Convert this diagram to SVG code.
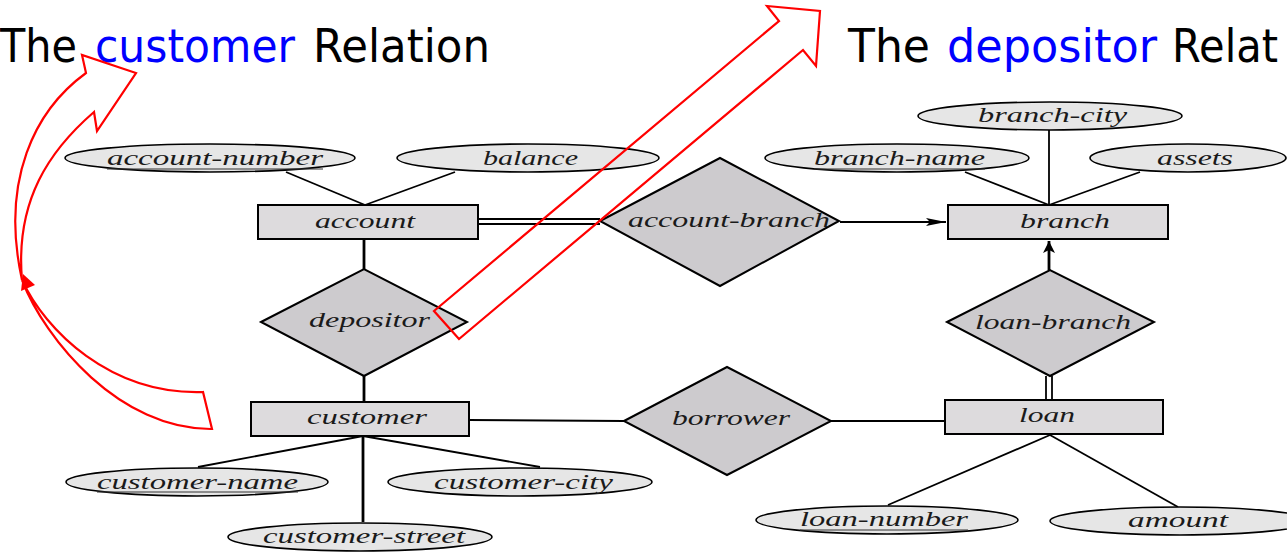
<svg xmlns="http://www.w3.org/2000/svg" width="1287" height="557" viewBox="0 0 1287 557">
<style>
.ent{fill:#dddbdd;stroke:#000;stroke-width:2}
.rel{fill:#cdcbce;stroke:#000;stroke-width:2}
.att{fill:#e6e6e6;stroke:#000;stroke-width:1.6}
.lbl{font-family:"Liberation Serif",serif;font-style:italic;font-size:22px;fill:#1a1a1a;text-anchor:start}
.ul{stroke:#333;stroke-width:1.2}
.ln{stroke:#000;stroke-width:1.8;fill:none}
.thk{stroke:#000;stroke-width:2.8;fill:none}
.red{stroke:#ff0000;stroke-width:2.2;fill:none;stroke-linejoin:miter}
.ttl{font-family:"DejaVu Sans","Liberation Sans",sans-serif;font-size:47px;fill:#000}
.blue{fill:#0000ff}
</style>
<defs>
<marker id="ah" viewBox="0 0 20 8" refX="20" refY="4" markerWidth="20" markerHeight="8" markerUnits="userSpaceOnUse" orient="auto">
<path d="M0,0 L20,4 L0,8 L4,4 Z" fill="#000"/>
</marker>
<marker id="ah2" viewBox="0 0 12 12" refX="12" refY="6" markerWidth="12" markerHeight="12" markerUnits="userSpaceOnUse" orient="auto">
<path d="M0,0 L12,6 L0,12 L3,6 Z" fill="#000"/>
</marker>
</defs>

<g id="titles">
<text class="ttl" y="62"><tspan x="0" textLength="77" lengthAdjust="spacingAndGlyphs">The</tspan><tspan class="blue" x="95" textLength="200" lengthAdjust="spacingAndGlyphs">customer</tspan><tspan x="313" textLength="177" lengthAdjust="spacingAndGlyphs">Relation</tspan></text>
<text class="ttl" y="62"><tspan x="848" textLength="82" lengthAdjust="spacingAndGlyphs">The</tspan><tspan class="blue" x="947" textLength="210" lengthAdjust="spacingAndGlyphs">depositor</tspan><tspan x="1172" textLength="106" lengthAdjust="spacingAndGlyphs">Relat</tspan></text>
</g>

<g id="connectors">
<line class="ln" x1="286" y1="172" x2="365" y2="205"/>
<line class="ln" x1="455" y1="172" x2="365" y2="205"/>
<line class="thk" x1="364" y1="239" x2="364" y2="269"/>
<line class="thk" x1="364" y1="376" x2="364" y2="402"/>
<line class="ln" x1="478" y1="219" x2="600" y2="219" stroke-width="1.4"/>
<line class="ln" x1="478" y1="224" x2="600" y2="224" stroke-width="1.4"/>
<line class="ln" x1="840" y1="222" x2="946" y2="222" marker-end="url(#ah)"/>
<line class="ln" x1="965" y1="172" x2="1049" y2="205"/>
<line class="ln" x1="1049" y1="130" x2="1049" y2="205"/>
<line class="ln" x1="1140" y1="172" x2="1049" y2="205"/>
<line class="thk" x1="1049" y1="270" x2="1049" y2="241" marker-end="url(#ah2)"/>
<line class="ln" x1="1046" y1="376" x2="1046" y2="400" stroke-width="1.6"/>
<line class="ln" x1="1052" y1="376" x2="1052" y2="400" stroke-width="2.4"/>
<line class="ln" x1="469" y1="420" x2="624" y2="421"/>
<line class="ln" x1="831" y1="421" x2="945" y2="421"/>
<line class="ln" x1="363" y1="436" x2="198" y2="467"/>
<line class="ln" x1="363" y1="436" x2="540" y2="467"/>
<line class="thk" x1="363" y1="436" x2="363" y2="522"/>
<line class="ln" x1="1050" y1="435" x2="888" y2="505"/>
<line class="ln" x1="1050" y1="435" x2="1178" y2="507"/>
</g>

<g id="account-number"><ellipse class="att" cx="210" cy="158" rx="145" ry="14"/><text class="lbl" x="107" y="165" textLength="216" lengthAdjust="spacingAndGlyphs">account-number</text><line class="ul" x1="107" y1="169" x2="323" y2="169"/></g>
<g id="balance"><ellipse class="att" cx="528" cy="158" rx="131" ry="14"/><text class="lbl" x="483" y="165" textLength="95" lengthAdjust="spacingAndGlyphs">balance</text></g>
<g id="account"><rect class="ent" x="258" y="205" width="220" height="34"/><text class="lbl" x="315" y="228" textLength="100" lengthAdjust="spacingAndGlyphs">account</text></g>
<g id="account-branch"><polygon class="rel" points="600,221 720,158 839,221 720,286"/><text class="lbl" x="628" y="227" textLength="202" lengthAdjust="spacingAndGlyphs">account-branch</text></g>
<g id="branch-city"><ellipse class="att" cx="1050" cy="116" rx="132" ry="14"/><text class="lbl" x="978" y="122" textLength="149" lengthAdjust="spacingAndGlyphs">branch-city</text></g>
<g id="branch-name"><ellipse class="att" cx="897" cy="158" rx="132" ry="14"/><text class="lbl" x="814" y="165" textLength="171" lengthAdjust="spacingAndGlyphs">branch-name</text><line class="ul" x1="814" y1="169" x2="985" y2="169"/></g>
<g id="assets"><ellipse class="att" cx="1188" cy="158" rx="98" ry="14"/><text class="lbl" x="1157" y="165" textLength="76" lengthAdjust="spacingAndGlyphs">assets</text></g>
<g id="branch"><rect class="ent" x="948" y="205" width="220" height="34"/><text class="lbl" x="1020" y="228" textLength="90" lengthAdjust="spacingAndGlyphs">branch</text></g>
<g id="depositor"><polygon class="rel" points="261,322 364,269 467,322 364,376"/><text class="lbl" x="309" y="327" textLength="121" lengthAdjust="spacingAndGlyphs">depositor</text></g>
<g id="loan-branch"><polygon class="rel" points="947,322 1050,270 1154,322 1050,376"/><text class="lbl" x="975" y="329" textLength="156" lengthAdjust="spacingAndGlyphs">loan-branch</text></g>
<g id="customer"><rect class="ent" x="251" y="402" width="218" height="34"/><text class="lbl" x="307" y="424" textLength="120" lengthAdjust="spacingAndGlyphs">customer</text></g>
<g id="borrower"><polygon class="rel" points="624,421 727,367 831,421 727,475"/><text class="lbl" x="672" y="425" textLength="118" lengthAdjust="spacingAndGlyphs">borrower</text></g>
<g id="loan"><rect class="ent" x="945" y="400" width="218" height="34"/><text class="lbl" x="1019" y="422" textLength="56" lengthAdjust="spacingAndGlyphs">loan</text></g>
<g id="customer-name"><ellipse class="att" cx="197" cy="482" rx="131" ry="14"/><text class="lbl" x="97" y="489" textLength="201" lengthAdjust="spacingAndGlyphs">customer-name</text><line class="ul" x1="97" y1="492" x2="298" y2="492"/></g>
<g id="customer-city"><ellipse class="att" cx="520" cy="482" rx="132" ry="14"/><text class="lbl" x="434" y="489" textLength="179" lengthAdjust="spacingAndGlyphs">customer-city</text></g>
<g id="customer-street"><ellipse class="att" cx="360" cy="537" rx="132" ry="14"/><text class="lbl" x="263" y="543" textLength="202" lengthAdjust="spacingAndGlyphs">customer-street</text></g>
<g id="loan-number"><ellipse class="att" cx="887" cy="520" rx="131" ry="14"/><text class="lbl" x="800" y="526" textLength="168" lengthAdjust="spacingAndGlyphs">loan-number</text><line class="ul" x1="800" y1="530" x2="968" y2="530"/></g>
<g id="amount"><ellipse class="att" cx="1180" cy="521" rx="130" ry="14"/><text class="lbl" x="1128" y="527" textLength="100" lengthAdjust="spacingAndGlyphs">amount</text></g>

<g id="red-curved-arrow">
<path class="red" d="M22,280 C0,180 35,110 86,73 L82,55 L136,73 L97,131 L94,112 C50,150 15,200 22,280"/>
<path class="red" d="M22,280 C45,340 120,430 212,429 L203,392 C110,395 45,330 22,280"/>
<polygon points="23,274 35,285 21,291" fill="#ff0000"/>
</g>
<g id="red-straight-arrow">
<polygon class="red" points="434,311 779,21 767,6 820,11 816,66 803,50 459,339"/>
</g>
</svg>
